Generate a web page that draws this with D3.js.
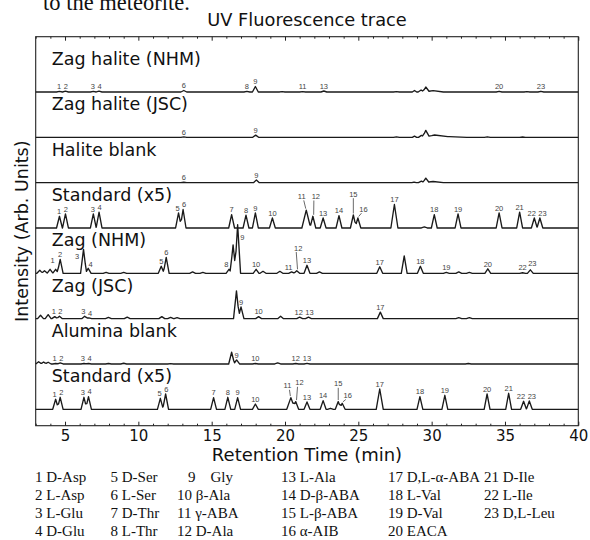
<!DOCTYPE html>
<html><head><meta charset="utf-8">
<script src="https://cdn.jsdelivr.net/npm/d3@7"></script>
<style>body{margin:0;background:#fff}svg{display:block}</style>
</head><body>
<svg id="chart" width="590" height="540"></svg>
<script>
// ---------------- DATA ----------------
const panelKeys = ["halNHM","halJSC","halBlank","std1","zagNHM","zagJSC","aluBlank","std2"];
const panelLabels = ["Zag halite (NHM)","Zag halite (JSC)","Halite blank","Standard (x5)","Zag (NHM)","Zag (JSC)","Alumina blank","Standard (x5)"];
// peaks: [retention time (min), height (a.u.), peak label, half width (min, optional)]
const peaksHalNHM = [[4.62,0.6,"1"],[5.03,0.8,"2"],[6.93,0.6,"3"],[7.32,0.8,"4"],[13.1,1.5,"6"],[17.4,0.6,"8"],
  [17.98,5.5,"9"],[19.8,0.4,""],[21.2,0.4,"11"],[22.65,1.0,"13"],[27.6,0.4,""],[28.83,1.5,"",0.15],[29.28,2.0,"",0.2],
  [29.6,4.6,"",0.22],[30.1,1.3,"",0.7],[34.6,0.7,"20"],[36.5,0.4,""],[37.45,0.7,"23"]];
const peaksHalJSC = [[13.1,0.5,"6"],[18.0,2.2,"9"],[27.6,0.5,""],[28.83,1.2,"",0.15],[29.3,2.0,"",0.2],
  [29.6,6.2,"",0.22],[30.2,2.2,"",0.9],[31.2,0.7,"",1.2],[33.8,0.4,""],[36.2,0.3,""]];
const peaksHalBlank = [[13.1,0.4,"6"],[18.05,2.7,"9"],[28.8,0.6,"",0.15],[29.3,1.5,"",0.2],[29.6,4.2,"",0.2],[30.1,1.2,"",0.7]];
const peaksStd1 = [[4.62,11.7,"1"],[5.03,14,"2"],[6.93,14,"3"],[7.32,15.8,"4"],[12.74,15,"5"],[13.05,18.5,"6"],
  [16.36,13.4,"7"],[17.34,12.8,"8"],[17.98,15,"9"],[19.14,10,"10"],[21.45,17.8,"11",0.3],[21.9,11.7,"12"],
  [22.6,10,"13"],[23.68,12.4,"14"],[24.66,13,"15"],[24.97,10,"16"],[27.46,23.5,"17",0.24],[29.5,1,""],
  [30.18,13.4,"18"],[31.8,14,"19"],[34.6,15,"20"],[36.0,15.8,"21"],[37.0,10,"22"],[37.38,10,"23"]];
const peaksZagNHM = [[3.28,3,""],[3.6,2.5,""],[3.98,4,""],[4.36,4,"1"],[4.67,14,"2"],[6.26,24,"3"],[6.58,5,"4"],
  [7.8,1,""],[9.0,1,""],[11.56,7,"5"],[11.9,16,"6"],[13.7,1.5,""],[14.4,1,""],[16.18,4,"8"],[16.46,28.5,""],
  [16.77,48.6,"9"],[18.03,4,"10"],[18.5,2,""],[19.65,2,""],[20.45,1.5,"11"],[20.8,2.5,"12"],[21.5,8,"13"],
  [22.35,1.5,""],[26.46,6.5,"17"],[28.13,17.5,""],[29.23,7,"18"],[31.0,1,"19"],[31.85,1.5,""],[32.57,1,""],
  [33.83,4.5,"20"],[36.2,0.6,"22"],[36.73,3.5,"23"]];
const peaksZagJSC = [[3.33,3.4,""],[3.85,4,""],[4.3,2,"1"],[4.62,2.5,"2"],[6.34,2.5,"3"],[6.62,0.8,"4"],[7.96,1.3,""],
  [9.24,1.5,""],[11.6,2,""],[12.2,1.3,""],[12.64,1,""],[16.69,27.8,""],[17.0,11.7,"9"],[18.2,2,"10"],[19.7,2.5,""],
  [21.0,1.5,"12"],[21.6,1.5,"13"],[26.5,6.5,"17"],[31.85,1,""],[32.57,1,""]];
const peaksAluBlank = [[3.2,2.3,""],[3.54,2,""],[3.85,1.7,""],[4.36,0.5,"1"],[4.67,1,"2"],[6.29,0.5,"3"],[6.6,0.5,"4"],
  [7.96,0.5,""],[9.0,0.7,""],[12.2,0.4,""],[16.36,11.7,""],[16.7,4,"9"],[17.98,0.5,"10"],[19.5,1,""],
  [20.73,0.5,"12"],[21.5,0.6,"13"],[32.5,0.5,""]];
const peaksStd2 = [[4.36,10,"1"],[4.67,12,"2"],[6.29,12,"3"],[6.6,12.7,"4"],[11.5,11,"5"],[11.86,15.3,"6"],
  [15.13,11.7,"7"],[16.1,12,"8"],[16.77,11.7,"9"],[17.98,5.3,"10"],[20.4,11.7,"11",0.28],[20.73,7.7,"12"],
  [21.5,7.3,"13"],[22.6,8.7,"14"],[23.1,1,""],[23.63,7.7,"15"],[23.9,6,"16"],[26.46,20.3,"17",0.24],
  [29.2,12.7,"18"],[30.9,14,"19"],[33.78,15.3,"20"],[35.25,16,"21"],[36.27,8,"22"],[36.66,8.3,"23"]];
const panelPeaks = [peaksHalNHM,peaksHalJSC,peaksHalBlank,peaksStd1,peaksZagNHM,peaksZagJSC,peaksAluBlank,peaksStd2];

const xTicksMajor = [5,10,15,20,25,30,35,40];
const xDomain = [3,40];
const legendNumbers = d3.range(1,24);
const legendNames = ["D-Asp","L-Asp","L-Glu","D-Glu","D-Ser","L-Ser","D-Thr","L-Thr","Gly","β-Ala","γ-ABA","D-Ala",
  "L-Ala","D-β-ABA","L-β-ABA","α-AIB","D,L-α-ABA","L-Val","D-Val","EACA","D-Ile","L-Ile","D,L-Leu"];
const titleText = "UV Fluorescence trace";
const xTitle = "Retention Time (min)";
const yTitle = "Intensity (Arb. Units)";

// ---------------- LAYOUT / STYLE ----------------
const plot = {left:35.7, right:578.3, top:36.7, bottom:425.7};
const DEFAULT_W = 0.2;
// label nudges in px: key "panelIndex:label"
const labelNudge = {
  "3:11":{dx:-4.5,dy:-9,leader:true},"3:12":{dx:3,dy:-15,leader:true},"3:15":{dx:0,dy:-16,leader:true},"3:16":{dx:5.6,dy:-4,leader:true},
  "7:11":{dx:-3.4,dy:-7,leader:true},"7:12":{dx:3.8,dy:-14,leader:true},"7:15":{dx:0,dy:-13,leader:true},"7:16":{dx:5.6,dy:-3,leader:true},
  "4:1":{dx:-3,dy:-4},"4:3":{dx:-6.4,dy:12},"4:4":{dx:2.3,dy:1.3},"4:8":{dx:-2.6,dy:0},"4:9":{dx:4.8,dy:18},
  "4:11":{dx:-3,dy:0},"4:12":{dx:1.5,dy:-18,leader:true},"4:23":{dx:2,dy:-2}
};

const svg = d3.select("#chart");
const x = d3.scaleLinear().domain(xDomain).range([plot.left, plot.right]);
const base = d3.scalePoint().domain(panelKeys).range([92, 409.3]);
const amp = d3.scaleLinear().domain([0,10]).range([0,10]);

function intensityAt(peaks, t){
  return d3.sum(peaks, p => { const w = p[3]||DEFAULT_W; const d = Math.abs(t-p[0]); return d < w ? p[1]*(1-d/w) : 0; });
}
function traceOf(peaks){
  const ts = new Set(xDomain);
  peaks.forEach(p => { const w = p[3]||DEFAULT_W; [p[0]-w,p[0],p[0]+w].forEach(t => { if (t>=xDomain[0] && t<=xDomain[1]) ts.add(t); }); });
  return [...ts].sort((a,b)=>a-b).map(t => [t, intensityAt(peaks,t)]);
}

// clipped text fragment from the page above the figure
svg.append("text").attr("x",43).attr("y",10).attr("font-family","Liberation Serif").attr("font-size",22.5)
  .attr("fill","#111").text("to the meteorite.");

// title
svg.append("text").attr("x",(plot.left+plot.right)/2).attr("y",26).attr("text-anchor","middle")
  .attr("font-family","DejaVu Sans").attr("font-size",17.8).attr("fill","#111").text(titleText);

// traces
const line = d3.line().x(d=>x(d[0]));
const labelFont = 7.5;
panelKeys.forEach((k,i) => {
  const peaks = panelPeaks[i];
  const b = base(k);
  svg.append("path").datum(traceOf(peaks))
    .attr("d", line.y(d => b - amp(d[1])))
    .attr("fill","none").attr("stroke","#1a1a1a").attr("stroke-width",1.35).attr("stroke-linejoin","round");
  svg.append("text").attr("x",plot.left+16).attr("y",b-27)
    .attr("font-family","DejaVu Sans").attr("font-size",17.5).attr("fill","#111").text(panelLabels[i]);

  // peak labels
  const labs = peaks.filter(p=>p[2]!=="").map(p => {
    const apexY = b - amp(intensityAt(peaks,p[0]));
    const nd = labelNudge[i+":"+p[2]] || {dx:0,dy:0};
    return {t:p[0], text:p[2], ax:x(p[0]), ay:apexY, x:x(p[0])+nd.dx, y:apexY-2.3+nd.dy,
            w:p[2].length*labelFont*0.556, fixed:!!labelNudge[i+":"+p[2]], leader:!!nd.leader};
  }).sort((a,c)=>a.x-c.x);
  for (let it=0; it<6; it++){
    for (let j=0;j<labs.length-1;j++){
      const a=labs[j], c=labs[j+1];
      if (a.fixed||c.fixed) continue;
      if (Math.abs(a.y-c.y) > 6) continue;
      const need=(a.w+c.w)/2+2.5, gap=c.x-a.x;
      if (gap<need){ const s=(need-gap)/2; a.x-=s; c.x+=s; }
    }
  }
  const g = svg.append("g");
  g.selectAll("text").data(labs).join("text")
    .attr("x",d=>d.x).attr("y",d=>d.y).attr("text-anchor","middle")
    .attr("font-family","Liberation Sans").attr("font-size",labelFont).attr("fill","#444").text(d=>d.text);
  g.selectAll("line").data(labs.filter(d=>d.leader)).join("line")
    .attr("x1",d=>d.x + (d.x<d.ax-1? 2 : d.x>d.ax+1 ? -2 : 0)).attr("y1",d=>d.y+1.5)
    .attr("x2",d=>d.ax + (d.x<d.ax-1? -0.5 : d.x>d.ax+1 ? 0.8 : 0)).attr("y2",d=>d.ay-1.5)
    .attr("stroke","#444").attr("stroke-width",0.8);
});

// frame
svg.append("rect").attr("x",plot.left).attr("y",plot.top)
  .attr("width",plot.right-plot.left).attr("height",plot.bottom-plot.top)
  .attr("fill","none").attr("stroke","#222").attr("stroke-width",1.1);

// axes (inward ticks top & bottom)
const minorVals = d3.range(xDomain[0], xDomain[1]+1).filter(v => !xTicksMajor.includes(v));
const bottomAx = svg.append("g").attr("transform",`translate(0,${plot.bottom})`)
  .call(d3.axisBottom(x).tickValues(xTicksMajor).tickSizeInner(-4).tickSizeOuter(0).tickPadding(5).tickFormat(d3.format("d")));
bottomAx.select(".domain").remove();
bottomAx.selectAll("text").attr("font-family","DejaVu Sans").attr("font-size",15).attr("fill","#111");
bottomAx.selectAll("line").attr("stroke","#222");
const bottomMinor = svg.append("g").attr("transform",`translate(0,${plot.bottom})`)
  .call(d3.axisBottom(x).tickValues(minorVals).tickSizeInner(-2).tickSizeOuter(0).tickFormat(""));
bottomMinor.select(".domain").remove();
bottomMinor.selectAll("line").attr("stroke","#222");
const topAx = svg.append("g").attr("transform",`translate(0,${plot.top})`)
  .call(d3.axisTop(x).tickValues(xTicksMajor).tickSizeInner(-4).tickSizeOuter(0).tickFormat(""));
topAx.select(".domain").remove();
topAx.selectAll("line").attr("stroke","#222");
const topMinor = svg.append("g").attr("transform",`translate(0,${plot.top})`)
  .call(d3.axisTop(x).tickValues(minorVals).tickSizeInner(-2).tickSizeOuter(0).tickFormat(""));
topMinor.select(".domain").remove();
topMinor.selectAll("line").attr("stroke","#222");

// axis titles
svg.append("text").attr("x",(plot.left+plot.right)/2).attr("y",461).attr("text-anchor","middle")
  .attr("font-family","DejaVu Sans").attr("font-size",18).attr("fill","#111").text(xTitle);
svg.append("text").attr("transform",`translate(28,${(plot.top+plot.bottom)/2}) rotate(-90)`).attr("text-anchor","middle")
  .attr("font-family","DejaVu Sans").attr("font-size",17.5).attr("fill","#111").text(yTitle);

// legend of peak identities
const legendColX = [35, 110.5, 177, 281, 388, 484];
const legendRowY = [482, 500, 518, 536];
const lg = svg.append("g").attr("font-family","Liberation Serif").attr("font-size",15).attr("fill","#111");
legendNumbers.forEach((n,idx) => {
  const col = Math.floor(idx/4), row = idx%4;
  const single = String(n).length===1 && col===2;
  lg.append("text").attr("x", single ? legendColX[col]+11 : legendColX[col]).attr("y",legendRowY[row])
    .attr("xml:space","preserve")
    .text(single ? `${n}\u2002\u2002${legendNames[idx]}` : `${n} ${legendNames[idx]}`);
});
</script>
</body></html>
